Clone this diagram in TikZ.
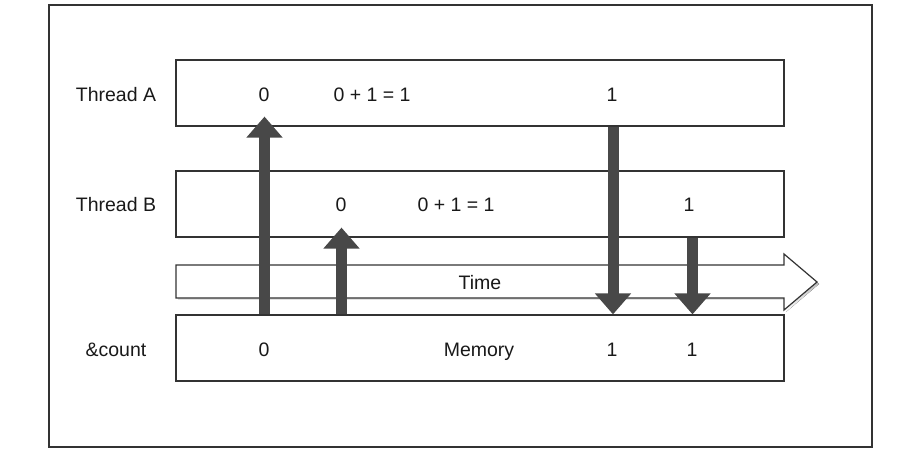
\documentclass[tikz,border=0pt]{standalone}
\usepackage{fontspec}
\setmainfont{Liberation Sans}
\usetikzlibrary{arrows.meta,calc}
\definecolor{edge}{HTML}{333333}
\definecolor{blk}{HTML}{484848}
\definecolor{shade}{HTML}{DADADA}
\tikzset{
  rowbox/.style={draw=edge, line width=1.2pt, minimum width=608pt, minimum height=66pt, inner sep=0pt},
  lbl/.style={font=\fontsize{19.5}{22}\selectfont, inner sep=0pt, text height=14pt, text depth=0pt, text=black!90},
  blkarrow/.style={draw=blk, line width=11pt, line cap=butt, -{Triangle[width=35pt,length=21pt]}},
}
\begin{document}
\begin{tikzpicture}[x=1pt,y=-1pt]
\useasboundingbox (0,0) rectangle (905,454);
\draw[edge, line width=1.2pt] (49,5) rectangle (872,447);
% rows
\node[rowbox] (A) at (480,93) {};
\node[rowbox] (B) at (480,204) {};
\node[rowbox] (M) at (480,348) {};
% time arrow
\fill[shade] (178,267) -- (786,267) -- (786,256) -- (819,284) -- (786,312) -- (786,300) -- (178,300) -- cycle;
\draw[edge, line width=1.2pt, fill=white] (176,265) -- (784,265) -- (784,254) -- (817,282) -- (784,310) -- (784,298) -- (176,298) -- cycle;
\node[lbl] (time) at (480,283) {Time};
% labels
\node[lbl] (lA) at (116,95) {Thread A};
\node[lbl] (lB) at (116,205) {Thread B};
\node[lbl] (lM) at (116,349) {\&count};
\node[lbl] (a0) at (264,95) {0};
\node[lbl] (a1) at (372,95) {0 + 1 = 1};
\node[lbl] (a2) at (612,95) {1};
\node[lbl] (b0) at (341,205) {0};
\node[lbl] (b1) at (456,205) {0 + 1 = 1};
\node[lbl] (b2) at (689,205) {1};
\node[lbl] (m0) at (264,349) {0};
\node[lbl] (mm) at (479,349) {Memory};
\node[lbl] (m1) at (612,349) {1};
\node[lbl] (m2) at (692,349) {1};
% arrows
\coordinate (x1) at (264.5,0);
\coordinate (x2) at (341.5,0);
\coordinate (x3) at (613,0);
\coordinate (x4) at (692.5,0);
\draw[blkarrow] (x1 |- M.north) -- ($(x1 |- A.south)+(0,-10)$);
\draw[blkarrow] (x2 |- M.north) -- ($(x2 |- B.south)+(0,-10)$);
\draw[blkarrow] (x3 |- A.south) -- (x3 |- M.north);
\draw[blkarrow] (x4 |- B.south) -- (x4 |- M.north);
\end{tikzpicture}
\end{document}
